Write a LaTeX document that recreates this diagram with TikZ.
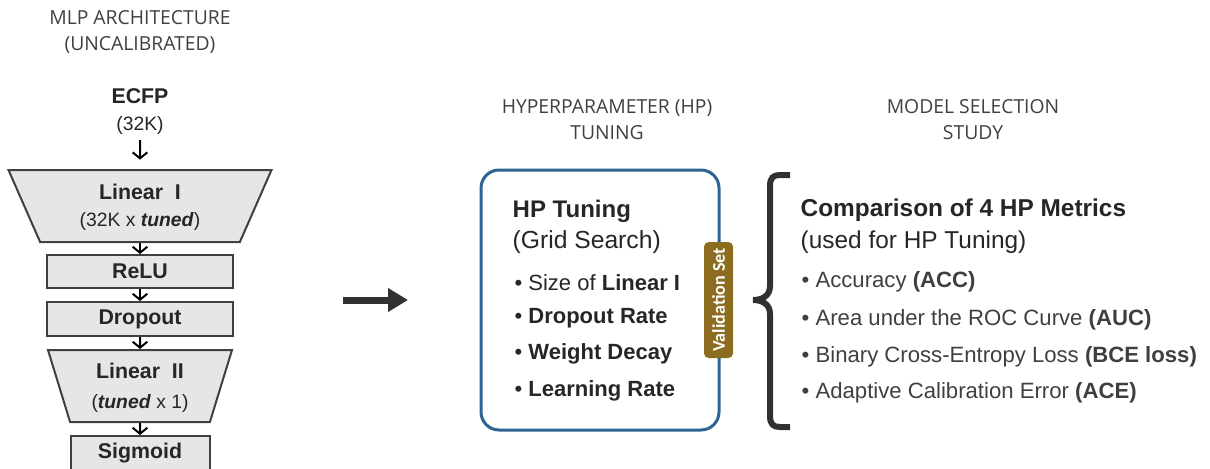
\documentclass[tikz,border=0pt]{standalone}
\usepackage{fontspec}
\setmainfont{Liberation Sans}
\newfontfamily\titlefont{Open Sans}
\newfontfamily\tagfont{Carlito}
\usetikzlibrary{arrows.meta,shapes.geometric}
\definecolor{txtdark}{HTML}{262626}
\definecolor{txtgray}{HTML}{3F3F3F}
\definecolor{titlegray}{HTML}{404040}
\definecolor{linegray}{HTML}{404040}
\definecolor{layerfill}{HTML}{E6E6E6}
\definecolor{hpblue}{HTML}{2E6395}
\definecolor{tagbrown}{HTML}{8C6D1F}
\definecolor{bracegray}{HTML}{303231}
\newcommand{\fsz}[1]{\fontsize{#1}{1.2\dimexpr#1pt\relax}\selectfont}
\tikzset{
  layer/.style={draw=linegray, fill=layerfill, line width=1.5pt, text=txtdark, font=\bfseries\fsz{16}},
  linlayer/.style={layer, trapezium, trapezium stretches body, align=center},
  flow/.style={-{Straight Barb[length=4.5pt,width=11pt]}, line width=1.5pt},
  heading/.style={align=center, text=titlegray, font=\titlefont\fsz{14.5}},
  hpitem/.style={anchor=base west, text=txtdark, font=\fsz{16.5}},
  metric/.style={anchor=base west, text=txtgray, font=\fsz{16.6}}
}
\begin{document}
\begin{tikzpicture}[x=0.75pt,y=-0.75pt]
\useasboundingbox (0,0) rectangle (1210,468);
% left column: MLP layers
\node[heading] (mlphead) at (140,32) {MLP ARCHITECTURE\\[2pt](UNCALIBRATED)};
\node[text=txtdark,font=\bfseries\fsz{16}] (ecfp) at (140,96) {ECFP};
\node[text=txtdark,font=\fsz{14.5}] (ecfpsize) at (140,125) {(32K)};
\node[linlayer, minimum width=197.25pt, minimum height=54pt,
  trapezium left angle=118.4, trapezium right angle=118.4] (lin1) at (140,206)
  {\rule{0pt}{14pt}Linear\ \ I\\[1pt]{\mdseries\fsz{14.5}(32K x \textbf{\textit{tuned}})}};
\node[layer, minimum width=139.5pt, minimum height=24.75pt] (relu) at (140,271.5) {ReLU};
\node[layer, minimum width=139.5pt, minimum height=25.5pt] (drop) at (140,319) {Dropout};
\node[linlayer, minimum width=138pt, minimum height=54pt,
  trapezium left angle=109.85, trapezium right angle=109.85] (lin2) at (140,386)
  {\rule{0pt}{14pt}Linear\ \ II\\[3pt]{\mdseries\fsz{14.5}(\textbf{\textit{tuned}} x 1)}};
\node[layer, minimum width=104.25pt, minimum height=25.5pt] (sig) at (140,453) {Sigmoid};
\draw[flow, shorten <=1pt, shorten >=7pt] (ecfpsize) -- (lin1);
\draw[flow] (lin1) -- (relu);
\draw[flow] (relu) -- (drop);
\draw[flow] (drop) -- (lin2);
\draw[flow] (lin2) -- (sig);
% big arrow
\coordinate (arrowstart) at (343,300);
\coordinate (arrowend) at (408,300);
\draw[line width=5.25pt, draw=bracegray, -{Triangle[length=15pt,width=17pt]}] (arrowstart) -- (arrowend);
% HP tuning box
\node[heading] (hphead) at (607,120) {HYPERPARAMETER (HP)\\[2pt]TUNING};
\node[draw=hpblue, line width=2.25pt, rounded corners=13.5pt, minimum width=178.5pt, minimum height=195pt] (hpbox) at (600,300) {};
\node[anchor=base west, text=txtdark, font=\bfseries\fsz{18}] (hptitle) at (508,217) {HP Tuning};
\node[anchor=base west, text=txtdark, font=\fsz{18.5}] (hpsub) at (508,248) {(Grid Search)};
\node[hpitem] (hpsize) at (510,290.5) {\textbullet\hspace{4.5pt}Size of \textbf{Linear I}};
\node[hpitem] (hpdrop) at (510,323) {\textbullet\hspace{4.5pt}\textbf{Dropout Rate}};
\node[hpitem] (hpwd) at (510,359) {\textbullet\hspace{4.5pt}\textbf{Weight Decay}};
\node[hpitem] (hplr) at (510,396.5) {\textbullet\hspace{4.5pt}\textbf{Learning Rate}};
\node[fill=tagbrown, rounded corners=3.5pt, rotate=90, minimum width=87pt, minimum height=21.75pt,
  inner sep=1pt, text=white, font=\tagfont\bfseries\fsz{13.5}] (valset) at (718.5,300) {Validation Set};
% model selection
\node[heading] (mshead) at (973,120) {MODEL SELECTION\\[2pt]STUDY};
\coordinate (bracetop) at (790,175);
\coordinate (bracetip) at (753,300);
\coordinate (bracebot) at (790,427);
\draw[bracegray, line width=4.5pt] (bracetop) -- (780,175) .. controls (773,175) and (770,178) .. (770,186)
  -- (770,286) .. controls (770,296) and (762,300) .. (bracetip)
  .. controls (762,300) and (770,304) .. (770,314) -- (770,416)
  .. controls (770,424) and (773,427) .. (780,427) -- (bracebot);
\node[anchor=base west, text=txtdark, font=\bfseries\fsz{18.3}] (cmptitle) at (796,216) {Comparison of 4 HP Metrics};
\node[anchor=base west, text=txtdark, font=\fsz{18.3}] (cmpsub) at (796,248) {(used for HP Tuning)};
\node[metric] (acc) at (797,287) {\textbullet\ Accuracy \textbf{(ACC)}};
\node[metric] (auc) at (797,325) {\textbullet\ Area under the ROC Curve \textbf{(AUC)}};
\node[metric] (bce) at (797,362) {\textbullet\ Binary Cross-Entropy Loss \textbf{(BCE loss)}};
\node[metric] (ace) at (797,398) {\textbullet\ Adaptive Calibration Error \textbf{(ACE)}};
\end{tikzpicture}
\end{document}
